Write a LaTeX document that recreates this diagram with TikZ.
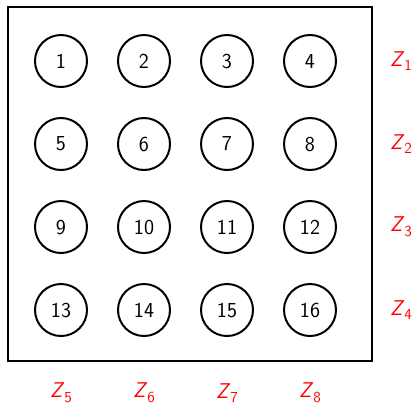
\documentclass[tikz,border=0pt]{standalone}
\usepackage{tikz}
\usetikzlibrary{positioning}
\usepackage{xcolor}

\newcommand{\zlabel}[1]{\textit{Z}\raisebox{-0.5ex}{\fontsize{11.5}{13}\selectfont #1}}

\begin{document}
\begin{tikzpicture}[
  x=0.75pt, y=-0.75pt,
  cell/.style={draw, circle, line width=1.5pt, minimum size=39pt, inner sep=0pt, font=\sffamily\fontsize{16}{19}\selectfont},
  zone/.style={text=red, font=\sffamily\fontsize{16}{19}\selectfont}
]
\useasboundingbox (0,0) rectangle (413,404);
\node[draw, line width=1.5pt, minimum width=273pt, minimum height=265.5pt, inner sep=0pt] (frame) at (190,184) {};

\foreach \r in {1,...,4} {
  \foreach \c in {1,...,4} {
    \pgfmathtruncatemacro{\n}{4*(\r-1)+\c}
    \node[cell] (c\n) at ({61+83*(\c-1)}, {61+83*(\r-1)}) {\n};
  }
}

% row zones
\foreach \r in {1,...,4} {
  \node[zone] (zr\r) at (401, {61+83*(\r-1)}) {\zlabel{\r}};
}
% column zones
\foreach \c/\k in {1/5,2/6,3/7,4/8} {
  \node[zone] (zc\k) at ({61+83*(\c-1)}, 393) {\zlabel{\k}};
}
\end{tikzpicture}
\end{document}
